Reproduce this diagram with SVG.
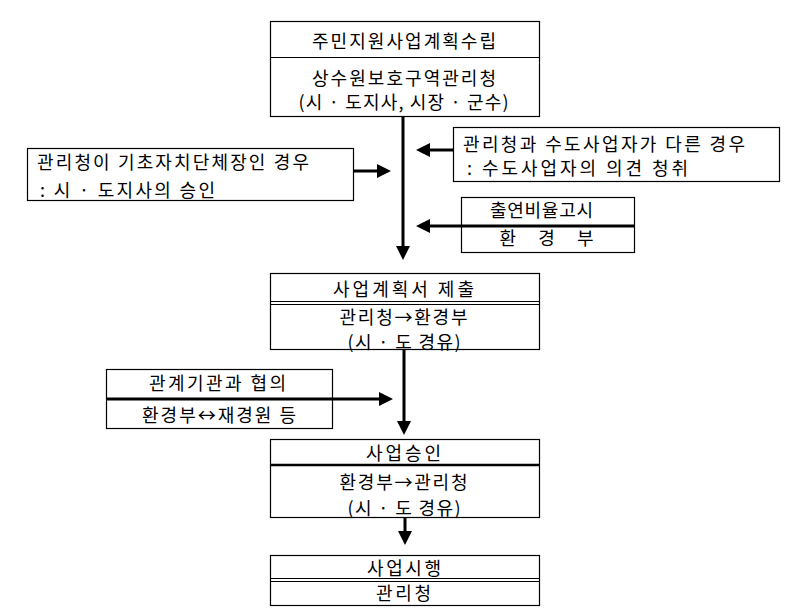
<svg xmlns="http://www.w3.org/2000/svg" width="792" height="610" viewBox="0 0 792 610">
<style>
text{font-family:"Noto Sans CJK KR","Noto Sans",sans-serif;font-size:18px;fill:#000;dominant-baseline:central}
.c{text-anchor:middle}
.box{fill:#fff;stroke:#000;stroke-width:1.2}
.thin{stroke:#000;stroke-width:1.2;fill:none}
.conn{stroke:#000;stroke-width:3;fill:none}
.head{fill:#000}
</style>
<rect width="792" height="610" fill="#fff"/>
<g id="n1">
<rect class="box" x="270.5" y="21.5" width="269" height="95"/>
<line class="thin" x1="270.5" y1="57.5" x2="539.5" y2="57.5"/>
<text class="c" x="404" y="40" textLength="184" lengthAdjust="spacing">주민지원사업계획수립</text>
<text class="c" x="404" y="77" textLength="184" lengthAdjust="spacing">상수원보호구역관리청</text>
<text class="c" x="403.5" y="101" textLength="210" lengthAdjust="spacing">(시 · 도지사, 시장 · 군수)</text>
</g>
<g id="n_left1">
<rect class="box" x="27.5" y="148.5" width="326" height="52"/>
<text x="37" y="161" textLength="272" lengthAdjust="spacing">관리청이 기초자치단체장인 경우</text>
<text x="40" y="189" textLength="175" lengthAdjust="spacing">: 시 · 도지사의 승인</text>
</g>
<g id="n_right1">
<rect class="box" x="453.5" y="127.5" width="326" height="54"/>
<text x="463" y="143" textLength="282" lengthAdjust="spacing">관리청과 수도사업자가 다른 경우</text>
<text x="467" y="167" textLength="221" lengthAdjust="spacing">: 수도사업자의 의견 청취</text>
</g>
<g id="n_right2">
<rect class="box" x="461.5" y="197.5" width="173" height="55"/>
<line class="conn" x1="461" y1="226" x2="634" y2="226"/>
<text class="c" x="541.5" y="209" textLength="103" lengthAdjust="spacing">출연비율고시</text>
<text class="c" x="546.5" y="237" textLength="94" lengthAdjust="spacing">환 경 부</text>
</g>
<g id="n2">
<rect class="box" x="270.5" y="273.5" width="269" height="76"/>
<line class="thin" x1="270.5" y1="301.5" x2="539.5" y2="301.5"/>
<line class="thin" x1="270.5" y1="304.5" x2="539.5" y2="304.5"/>
<text class="c" x="403.5" y="288" textLength="141" lengthAdjust="spacing">사업계획서 제출</text>
<text class="c" x="403.5" y="316" textLength="128" lengthAdjust="spacing">관리청→환경부</text>
<text class="c" x="404" y="341" textLength="113" lengthAdjust="spacing">(시 · 도 경유)</text>
</g>
<g id="n_left2">
<rect class="box" x="106.5" y="369.5" width="226" height="59"/>
<text class="c" x="217.5" y="382" textLength="137" lengthAdjust="spacing">관계기관과 협의</text>
<text class="c" x="219" y="414" textLength="154" lengthAdjust="spacing">환경부↔재경원 등</text>
</g>
<g id="n3">
<rect class="box" x="270.5" y="439.5" width="269" height="78"/>
<line x1="270.5" y1="465" x2="539.5" y2="465" stroke="#000" stroke-width="2.5"/>
<text class="c" x="403.5" y="452" textLength="75" lengthAdjust="spacing">사업승인</text>
<text class="c" x="403.5" y="481" textLength="128" lengthAdjust="spacing">환경부→관리청</text>
<text class="c" x="404" y="507" textLength="113" lengthAdjust="spacing">(시 · 도 경유)</text>
</g>
<g id="n4">
<rect class="box" x="270.5" y="555.5" width="269" height="50"/>
<line class="thin" x1="270.5" y1="578.5" x2="539.5" y2="578.5"/>
<line class="thin" x1="270.5" y1="581.5" x2="539.5" y2="581.5"/>
<text class="c" x="404" y="567" textLength="74" lengthAdjust="spacing">사업시행</text>
<text class="c" x="403.5" y="592" textLength="55" lengthAdjust="spacing">관리청</text>
</g>
<g id="connectors">
<line class="conn" x1="403" y1="117" x2="403" y2="248"/>
<polygon class="head" points="396,246 410,246 403,260"/>
<line class="conn" x1="353" y1="171" x2="379" y2="171"/>
<polygon class="head" points="377,164 377,178 391,171"/>
<line class="conn" x1="453" y1="150" x2="428" y2="150"/>
<polygon class="head" points="430,143 430,157 416,150"/>
<line class="conn" x1="461" y1="226" x2="428" y2="226"/>
<polygon class="head" points="430,219 430,233 416,226"/>
<line class="conn" x1="404" y1="350" x2="404" y2="423"/>
<polygon class="head" points="397,421 411,421 404,435"/>
<line class="conn" x1="106" y1="399" x2="381" y2="399"/>
<polygon class="head" points="379,392 379,406 393,399"/>
<line class="conn" x1="405" y1="518" x2="405" y2="533"/>
<polygon class="head" points="398,531 412,531 405,545"/>
</g>
</svg>
